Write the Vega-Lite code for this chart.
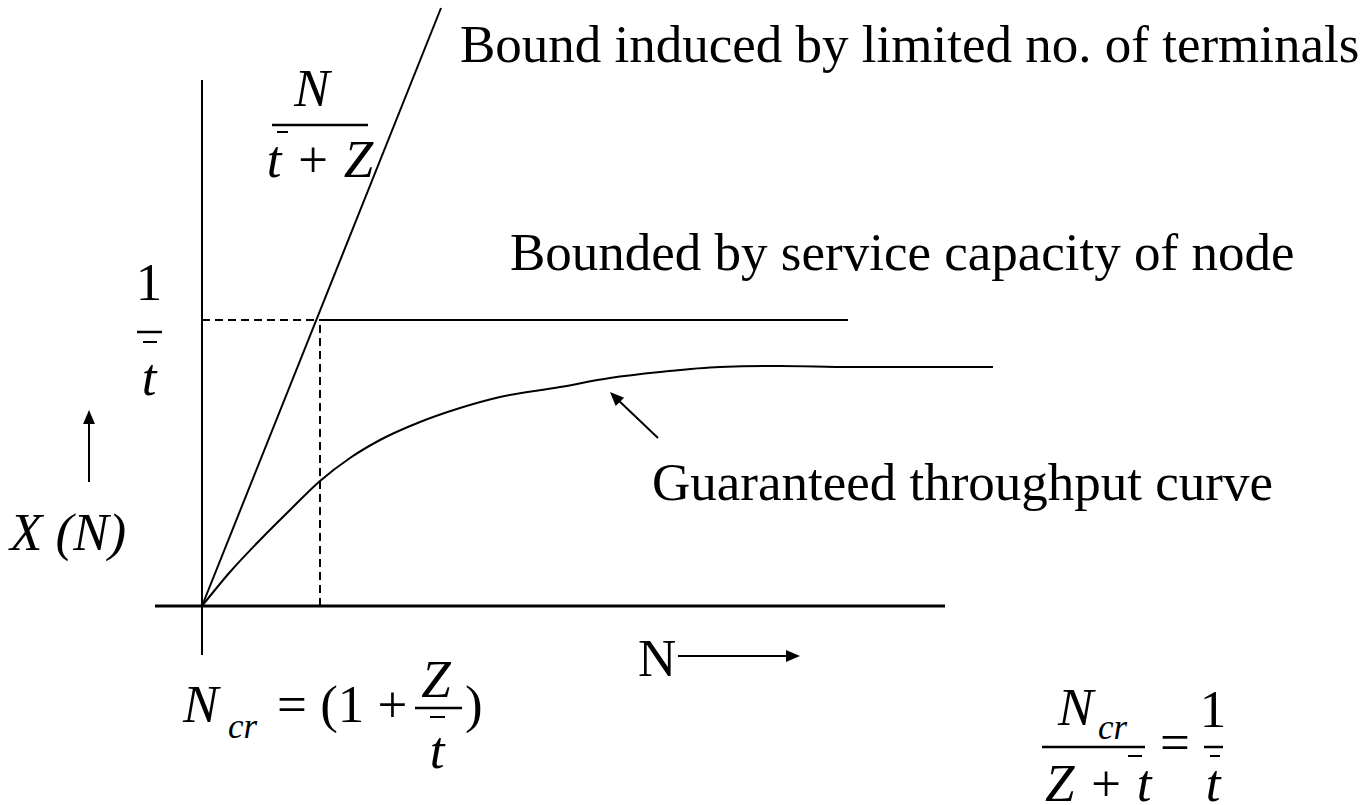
{
  "$schema": "https://vega.github.io/schema/vega-lite/v6.json",
  "width": 1369,
  "height": 805,
  "padding": 0,
  "autosize": {"type": "none"},
  "background": "white",
  "config": {"view": {"stroke": null}},
  "datasets": {
    "axisx": [{"x": -0.47, "y": 0, "x2": 7.43, "y2": 0}],
    "lines": [
      {"x": 0, "y": -0.49, "x2": 0, "y2": 5.26},
      {"x": 0, "y": 0, "x2": 2.39, "y2": 5.98},
      {"x": 1.18, "y": 2.86, "x2": 6.46, "y2": 2.86},
      {"x": -1.13, "y": 1.24, "x2": -1.13, "y2": 1.84},
      {"x": 4.76, "y": -0.5, "x2": 5.9, "y2": -0.5},
      {"x": 4.56, "y": 1.68, "x2": 4.14, "y2": 2.08}
    ],
    "dashed": [
      {"x": 0, "y": 2.86, "x2": 1.18, "y2": 2.86},
      {"x": 1.18, "y": 0, "x2": 1.18, "y2": 2.86}
    ],
    "bars": [
      {"x": 0.70, "y": 4.81, "x2": 1.66, "y2": 4.81},
      {"x": -0.65, "y": 2.74, "x2": -0.40, "y2": 2.74},
      {"x": 2.13, "y": -1.02, "x2": 2.60, "y2": -1.02},
      {"x": 8.40, "y": -1.41, "x2": 9.43, "y2": -1.41},
      {"x": 10.02, "y": -1.41, "x2": 10.21, "y2": -1.41}
    ],
    "overlines": [
      {"x": 0.75, "y": 4.74, "x2": 0.86, "y2": 4.74},
      {"x": -0.59, "y": 2.64, "x2": -0.45, "y2": 2.64},
      {"x": 2.28, "y": -1.11, "x2": 2.43, "y2": -1.11},
      {"x": 9.26, "y": -1.50, "x2": 9.40, "y2": -1.50},
      {"x": 10.08, "y": -1.50, "x2": 10.18, "y2": -1.50}
    ],
    "heads": [
      {"x": -1.13, "y": 1.96, "angle": 0},
      {"x": 5.98, "y": -0.5, "angle": 90},
      {"x": 4.08, "y": 2.14, "angle": 315}
    ],
    "curve": [
      {"x": 0, "y": 0},
      {"x": 0.28, "y": 0.34},
      {"x": 0.58, "y": 0.66},
      {"x": 0.88, "y": 0.96},
      {"x": 1.18, "y": 1.25},
      {"x": 1.48, "y": 1.48},
      {"x": 1.78, "y": 1.66},
      {"x": 2.18, "y": 1.84},
      {"x": 2.58, "y": 1.98},
      {"x": 2.98, "y": 2.09},
      {"x": 3.58, "y": 2.19},
      {"x": 4.08, "y": 2.28},
      {"x": 4.58, "y": 2.34},
      {"x": 5.18, "y": 2.39},
      {"x": 5.78, "y": 2.40},
      {"x": 6.48, "y": 2.39},
      {"x": 7.91, "y": 2.39}
    ],
    "upLeft": [
      {"label": "Bound induced by limited no. of terminals", "x": 2.58, "y": 5.44},
      {"label": "Bounded by service capacity of node", "x": 3.08, "y": 3.36},
      {"label": "Guaranteed throughput curve", "x": 4.50, "y": 1.06},
      {"label": "N", "x": 4.36, "y": -0.70},
      {"label": "= (1 +", "x": 0.75, "y": -1.16},
      {"label": ")", "x": 2.63, "y": -1.16},
      {"label": "=", "x": 9.58, "y": -1.54}
    ],
    "upCenter": [
      {"label": "1", "x": -0.53, "y": 3.06},
      {"label": "1", "x": 10.11, "y": -1.21}
    ],
    "itLeft": [
      {"label": "X (N)", "x": -1.92, "y": 0.56},
      {"label": "N", "x": -0.19, "y": -1.16},
      {"label": "N", "x": 8.56, "y": -1.19},
      {"label": "Z + t", "x": 8.43, "y": -1.95}
    ],
    "itCenter": [
      {"label": "N", "x": 1.10, "y": 5.00},
      {"label": "t + Z", "x": 1.18, "y": 4.29},
      {"label": "t", "x": -0.53, "y": 2.11},
      {"label": "Z", "x": 2.34, "y": -0.91},
      {"label": "t", "x": 2.35, "y": -1.62},
      {"label": "t", "x": 10.11, "y": -1.95}
    ],
    "sub": [
      {"label": "cr", "x": 0.26, "y": -1.32},
      {"label": "cr", "x": 8.96, "y": -1.33}
    ]
  },
  "encoding": {
    "x": {"field": "x", "type": "quantitative", "scale": {"domain": [-2.02, 11.67], "nice": false, "zero": false}, "axis": null},
    "y": {"field": "y", "type": "quantitative", "scale": {"domain": [-1.99, 6.06], "nice": false, "zero": false}, "axis": null}
  },
  "layer": [
    {"data": {"name": "axisx"}, "mark": {"type": "rule", "color": "black", "strokeWidth": 3}, "encoding": {"x2": {"field": "x2"}, "y2": {"field": "y2"}}},
    {"data": {"name": "lines"}, "mark": {"type": "rule", "color": "black", "strokeWidth": 2}, "encoding": {"x2": {"field": "x2"}, "y2": {"field": "y2"}}},
    {"data": {"name": "dashed"}, "mark": {"type": "rule", "color": "black", "strokeWidth": 2, "strokeDash": [8, 5]}, "encoding": {"x2": {"field": "x2"}, "y2": {"field": "y2"}}},
    {"data": {"name": "bars"}, "mark": {"type": "rule", "color": "black", "strokeWidth": 2.5}, "encoding": {"x2": {"field": "x2"}, "y2": {"field": "y2"}}},
    {"data": {"name": "overlines"}, "mark": {"type": "rule", "color": "black", "strokeWidth": 2}, "encoding": {"x2": {"field": "x2"}, "y2": {"field": "y2"}}},
    {"data": {"name": "curve"}, "mark": {"type": "line", "color": "black", "strokeWidth": 2, "interpolate": "monotone"}, "encoding": {"order": {"field": "x", "type": "quantitative"}}},
    {"data": {"name": "heads"}, "mark": {"type": "point", "shape": "M0,0L0.85,2L-0.85,2Z", "filled": true, "color": "black", "opacity": 1, "size": 196, "strokeWidth": 0}, "encoding": {"angle": {"field": "angle", "type": "quantitative", "scale": null}}},
    {"data": {"name": "upLeft"}, "mark": {"type": "text", "font": "Liberation Serif", "fontSize": 53, "align": "left", "baseline": "alphabetic", "color": "black"}, "encoding": {"text": {"field": "label"}}},
    {"data": {"name": "upCenter"}, "mark": {"type": "text", "font": "Liberation Serif", "fontSize": 53, "align": "center", "baseline": "alphabetic", "color": "black"}, "encoding": {"text": {"field": "label"}}},
    {"data": {"name": "itLeft"}, "mark": {"type": "text", "font": "Liberation Serif", "fontSize": 53, "fontStyle": "italic", "align": "left", "baseline": "alphabetic", "color": "black"}, "encoding": {"text": {"field": "label"}}},
    {"data": {"name": "itCenter"}, "mark": {"type": "text", "font": "Liberation Serif", "fontSize": 53, "fontStyle": "italic", "align": "center", "baseline": "alphabetic", "color": "black"}, "encoding": {"text": {"field": "label"}}},
    {"data": {"name": "sub"}, "mark": {"type": "text", "font": "Liberation Serif", "fontSize": 35, "fontStyle": "italic", "align": "left", "baseline": "alphabetic", "color": "black"}, "encoding": {"text": {"field": "label"}}}
  ]
}
